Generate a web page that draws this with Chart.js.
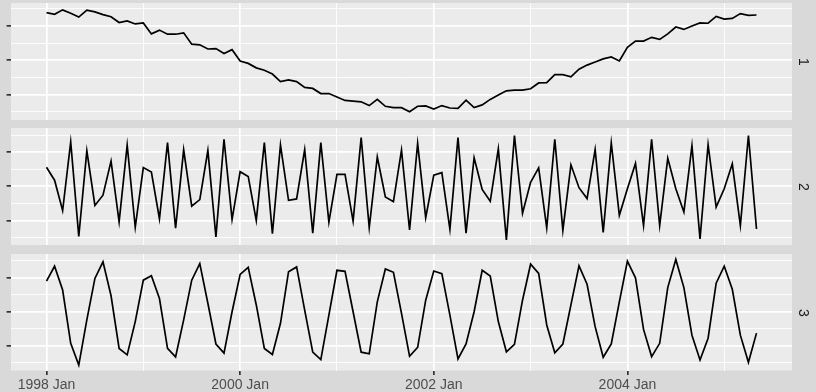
<!DOCTYPE html>
<html>
<head>
<meta charset="utf-8">
<script src="https://cdn.jsdelivr.net/npm/chart.js@4.4.1/dist/chart.umd.min.js"></script>
<style>
  body { margin: 0; background: #d9d9d9; width: 816px; height: 392px; overflow: hidden; position: relative; }
  canvas { position: absolute; left: 0; }
  .strip { position: absolute; left: 792px; width: 24px; display: flex; align-items: center; justify-content: center;
           font-family: "Liberation Sans", Arial, sans-serif; font-size: 14px; color: #1a1a1a; }
  .strip span { display: inline-block; transform: rotate(90deg); }
</style>
</head>
<body>
<canvas id="panel1" width="816" height="117" style="top:3px"></canvas>
<canvas id="panel2" width="816" height="117" style="top:128px"></canvas>
<canvas id="panel3" width="816" height="138" style="top:254px"></canvas>
<div class="strip" style="top:3px;height:117px"><span>1</span></div>
<div class="strip" style="top:128px;height:117px"><span>2</span></div>
<div class="strip" style="top:254px;height:117px"><span>3</span></div>
<script>
// monthly series, 1998 Jan .. 2005 May (index 0 = 1998 Jan)
const monthCount = 89;
const months = Array.from({ length: monthCount }, (_, i) => i);

const tickMonths = [0, 24, 48, 72];
const tickLabels = ['1998 Jan', '2000 Jan', '2002 Jan', '2004 Jan'];
const minorMonths = [12, 36, 60, 84];

// y axis has no labels, only grid positions
const yMajor = [-1, 0, 1];
const yMinor = [-1.5, -0.5, 0.5, 1.5];

const series1 = [1.39, 1.34, 1.47, 1.37, 1.26, 1.46, 1.41, 1.33, 1.27, 1.10, 1.15, 1.06,
  1.09, 0.77, 0.88, 0.76, 0.76, 0.80, 0.47, 0.45, 0.33, 0.34, 0.20, 0.31,
  -0.02, -0.09, -0.22, -0.29, -0.40, -0.62, -0.57, -0.62, -0.79, -0.82, -0.97, -0.97,
  -1.07, -1.17, -1.19, -1.21, -1.32, -1.14, -1.34, -1.38, -1.38, -1.50, -1.34, -1.33,
  -1.42, -1.32, -1.39, -1.40, -1.16, -1.38, -1.30, -1.14, -1.01, -0.89, -0.87, -0.87,
  -0.83, -0.66, -0.65, -0.42, -0.42, -0.48, -0.26, -0.14, -0.05, 0.04, 0.10, -0.02,
  0.38, 0.56, 0.56, 0.67, 0.61, 0.77, 0.97, 0.90, 1.00, 1.09, 1.08, 1.28,
  1.20, 1.22, 1.36, 1.31, 1.32];

const series2 = [0.56, 0.18, -0.71, 1.30, -1.47, 1.04, -0.56, -0.26, 0.74, -1.04, 1.21, -1.20,
  0.55, 0.42, -0.95, 1.28, -1.23, 1.07, -0.58, -0.39, 1.05, -1.48, 1.38, -0.97,
  0.43, 0.29, -1.00, 1.28, -1.39, 1.21, -0.41, -0.37, 1.08, -1.37, 1.28, -1.05,
  0.35, 0.35, -1.02, 1.43, -1.21, 0.86, -0.31, -0.45, 1.06, -1.28, 1.26, -0.92,
  0.33, 0.40, -1.26, 1.43, -1.37, 0.84, -0.09, -0.44, 1.10, -1.57, 1.49, -0.79,
  0.12, 0.54, -1.22, 1.38, -1.29, 0.63, -0.04, -0.36, 1.08, -1.35, 1.27, -0.85,
  -0.07, 0.67, -1.15, 1.38, -1.15, 0.82, -0.07, -0.75, 1.19, -1.54, 1.22, -0.61,
  -0.07, 0.66, -1.15, 1.49, -1.25];

const series3 = [0.90, 1.34, 0.64, -0.93, -1.57, -0.24, 0.98, 1.47, 0.47, -1.08, -1.27, -0.29,
  0.93, 1.06, 0.39, -1.08, -1.33, -0.24, 0.93, 1.42, 0.25, -0.95, -1.22, 0.00,
  1.10, 1.31, 0.20, -1.08, -1.26, -0.34, 1.18, 1.32, 0.05, -1.19, -1.41, -0.10,
  1.22, 1.19, 0.00, -1.19, -1.24, 0.29, 1.26, 1.16, -0.05, -1.31, -1.05, 0.34,
  1.20, 1.12, -0.10, -1.39, -0.95, 0.00, 1.22, 1.05, -0.29, -1.18, -0.96, 0.34,
  1.40, 1.13, -0.39, -1.21, -0.95, 0.20, 1.35, 0.81, -0.44, -1.34, -0.95, 0.29,
  1.49, 1.00, -0.52, -1.32, -0.93, 0.71, 1.54, 0.71, -0.69, -1.42, -0.78, 0.84,
  1.34, 0.66, -0.69, -1.49, -0.63];

const fontFamily = '"Liberation Sans", Arial, sans-serif';

// grey panel background behind the grid
const panelBackground = {
  id: 'panelBackground',
  beforeDraw(chart) {
    const { ctx, chartArea } = chart;
    ctx.save();
    ctx.fillStyle = '#ebebeb';
    ctx.fillRect(chartArea.left, chartArea.top, chartArea.right - chartArea.left, chartArea.bottom - chartArea.top);
    ctx.restore();
  }
};

function makePanel(id, values, yMin, yMax, isBottom) {
  const isMajorX = v => tickMonths.includes(v);
  const isMajorY = v => yMajor.includes(v);

  const chartConfig = {
    type: 'line',
    data: {
      datasets: [{
        data: months.map((m, i) => ({ x: m, y: values[i] })),
        borderColor: '#000000',
        borderWidth: 1.7,
        pointRadius: 0,
        fill: false,
        tension: 0
      }]
    },
    options: {
      responsive: false,
      animation: false,
      events: [],
      layout: { padding: { left: 0, right: 24, top: 0, bottom: 0 }, autoPadding: false },
      plugins: { legend: { display: false }, tooltip: { enabled: false } },
      scales: {
        x: {
          type: 'linear',
          min: -4.4,
          max: 92.4,
          afterBuildTicks: scale => {
            scale.ticks = tickMonths.concat(minorMonths).sort((a, b) => a - b).map(v => ({ value: v }));
          },
          afterFit: scale => { scale.height = isBottom ? 21.5 : 0; },
          border: { display: false },
          grid: {
            color: '#ffffff',
            lineWidth: ctx => isMajorX(ctx.tick.value) ? 1.7 : 0.85,
            drawTicks: isBottom,
            tickLength: 4.4,
            tickColor: ctx => isMajorX(ctx.tick.value) ? '#333333' : 'rgba(0,0,0,0)',
            tickWidth: 1.7
          },
          ticks: {
            display: isBottom,
            autoSkip: false,
            maxRotation: 0,
            padding: 2,
            color: '#4d4d4d',
            font: { family: fontFamily, size: 14 },
            callback: v => {
              const k = tickMonths.indexOf(v);
              return k >= 0 ? tickLabels[k] : '';
            }
          }
        },
        y: {
          min: yMin,
          max: yMax,
          afterBuildTicks: scale => {
            scale.ticks = yMajor.concat(yMinor).sort((a, b) => a - b).map(v => ({ value: v }));
          },
          afterFit: scale => { scale.width = 11; },
          border: { display: false },
          grid: {
            color: '#ffffff',
            lineWidth: ctx => isMajorY(ctx.tick.value) ? 1.7 : 0.85,
            drawTicks: true,
            tickLength: 4.4,
            tickColor: ctx => isMajorY(ctx.tick.value) ? '#333333' : 'rgba(0,0,0,0)',
            tickWidth: 1.7
          },
          ticks: { display: false }
        }
      }
    },
    plugins: [panelBackground]
  };

  return new Chart(document.getElementById(id), chartConfig);
}

makePanel('panel1', series1, -1.74, 1.67, false);
makePanel('panel2', series2, -1.72, 1.71, false);
makePanel('panel3', series3, -1.73, 1.70, true);
</script>
</body>
</html>
